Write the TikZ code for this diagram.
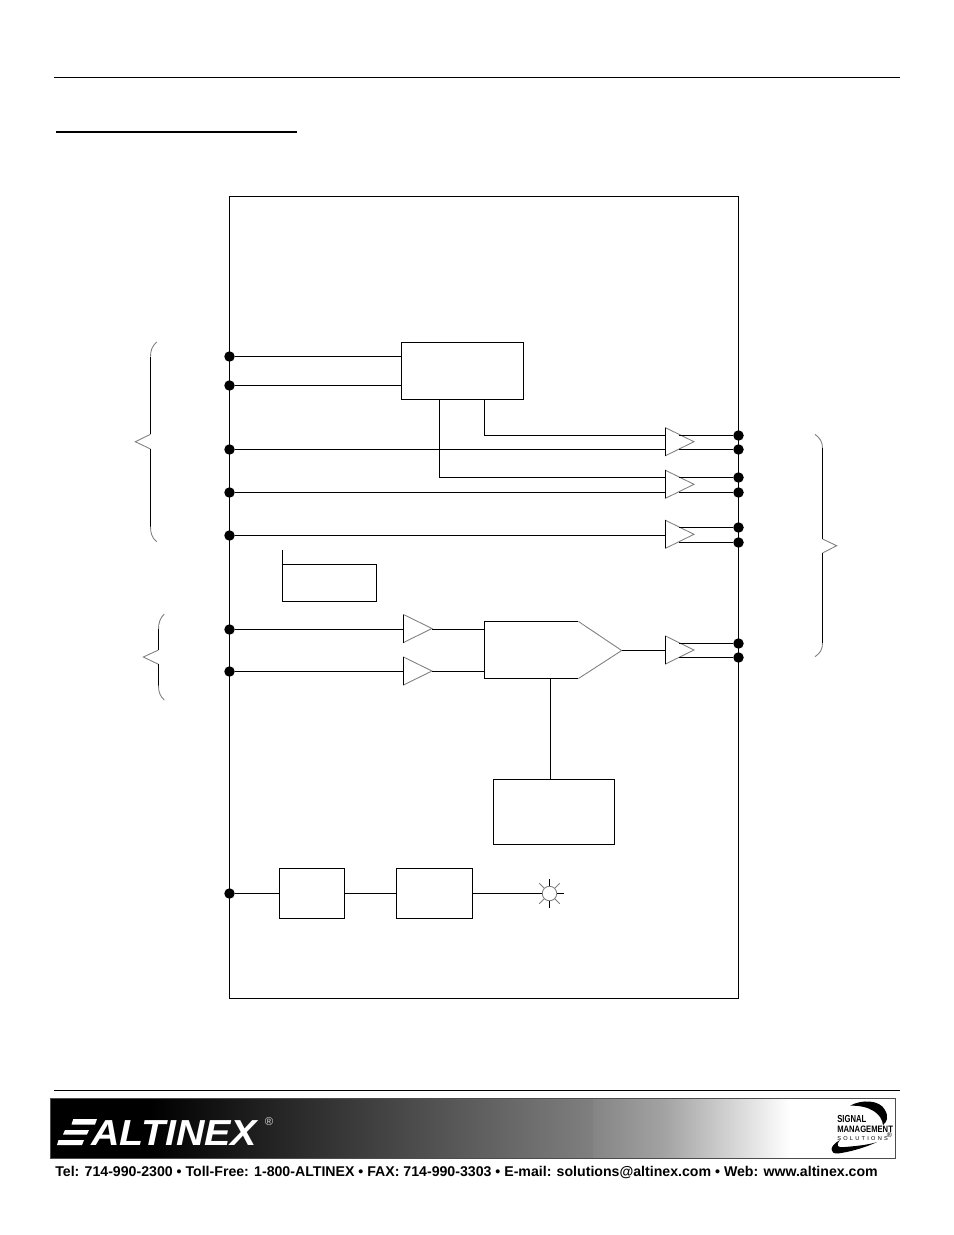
\documentclass[tikz,border=0pt]{standalone}
\usepackage{fontspec}
\setmainfont{Liberation Sans}
\usetikzlibrary{shapes.geometric}
\tikzset{
  wire/.style={line width=0.65pt},
  thin gray/.style={draw=black!50, line width=0.5pt},
  pin/.style={circle, fill=black, inner sep=0, minimum size=0.21cm},
  block/.style={rectangle, draw, wire, inner sep=0, outer sep=0},
  amp/.style={isosceles triangle, isosceles triangle stretches, thin gray, inner sep=0, outer sep=0,
    minimum width=0.56cm, minimum height=0.57cm, anchor=lower side},
}
\begin{document}
\begin{tikzpicture}[x=0.02cm, y=-0.02cm]
      \fill[white] (0,0) rectangle (954,1235);
      \useasboundingbox (0,0) rectangle (954,1235);

      \draw[wire] (54,77.5) -- (900,77.5);
      \draw[line width=1.3pt] (56,132) -- (297,132);
      \draw[wire] (54,1090.5) -- (900,1090.5);

      \draw[wire] (229.5,196.5) rectangle (738.5,998.5);

      \node[pin] (inA) at (229.5,356.5) {};
      \node[pin] (inB) at (229.5,385.5) {};
      \node[pin] (inC) at (229.5,449.5) {};
      \node[pin] (inD) at (229.5,492.5) {};
      \node[pin] (inE) at (229.5,535.5) {};
      \node[pin] (inF) at (229.5,629.5) {};
      \node[pin] (inG) at (229.5,671.5) {};
      \node[pin] (inH) at (229.5,893.5) {};

      \node[pin] (outA) at (738.5,435.5) {};
      \node[pin] (outB) at (738.5,449.5) {};
      \node[pin] (outC) at (738.5,477.5) {};
      \node[pin] (outD) at (738.5,492.5) {};
      \node[pin] (outE) at (738.5,527.5) {};
      \node[pin] (outF) at (738.5,542.5) {};
      \node[pin] (outG) at (738.5,643.5) {};
      \node[pin] (outH) at (738.5,657.5) {};

      \node[block, minimum width=2.44cm, minimum height=1.14cm] (upbox) at (462.5,371) {};
      \node[block, minimum width=1.88cm, minimum height=0.74cm] (memo) at (329.5,583) {};
      \node[block, minimum width=2.42cm, minimum height=1.30cm] (ctrl) at (554,812) {};
      \node[block, minimum width=1.30cm, minimum height=1.00cm] (boxL) at (312,893.5) {};
      \node[block, minimum width=1.52cm, minimum height=1.00cm] (boxR) at (434.5,893.5) {};
      \node[inner sep=0, outer sep=0, minimum width=1.88cm, minimum height=1.14cm] (mux) at (531.5,650) {};
      \node[coordinate] (muxtip) at (621.7,650.5) {};

      \node[amp] (ampA) at (665.5,441.7) {};
      \node[amp] (ampB) at (665.5,484.3) {};
      \node[amp] (ampC) at (665.5,534.3) {};
      \node[amp] (ampD) at (665.5,650) {};
      \node[amp] (ampE) at (403.5,628.5) {};
      \node[amp] (ampF) at (403.5,671) {};
      \foreach \n in {ampA,ampB,ampC,ampD,ampE,ampF}
        \draw[wire] (\n.left corner) -- (\n.right corner);

      \node[coordinate] (ampout) at (679,435) {};
      \node[coordinate] (tapA) at (484.5,399.5) {};
      \node[coordinate] (tapB) at (439.5,399.5) {};
      \node[coordinate] (ampAin) at (665.5,435.5) {};
      \node[coordinate] (ampBin) at (665.5,477.5) {};
      \node[coordinate] (ctrltap) at (550.5,678.5) {};
      \node[circle, thin gray, inner sep=0, minimum size=0.29cm] (led) at (549.5,893.5) {};

      \draw[wire] (mux.north east) -- (mux.north west) -- (mux.south west) -- (mux.south east);
      \draw[thin gray] (mux.north east) -- (muxtip) -- (mux.south east);
      \draw[wire] (memo.north west) -- ++(0,-14.5);

      \draw[wire] (inA) -- (inA -| upbox.west);
      \draw[wire] (inB) -- (inB -| upbox.west);
      \draw[wire] (tapA) |- (ampAin);
      \draw[wire] (tapB) |- (ampBin);
      \draw[wire] (inC) -- (inC -| ampA.lower side);
      \draw[wire] (inD) -- (inD -| ampB.lower side);
      \draw[wire] (inE) -- (inE -| ampC.lower side);
      \draw[wire] (inF) -- (inF -| ampE.lower side);
      \draw[wire] (inG) -- (inG -| ampF.lower side);
      \draw[wire] (inF -| ampE.apex) -- (inF -| mux.west);
      \draw[wire] (inG -| ampF.apex) -- (inG -| mux.west);
      \draw[wire] (muxtip) -- (muxtip -| ampD.lower side);
      \draw[wire] (ctrltap) -- (ctrltap |- ctrl.north);
      \draw[wire] (outA) -- (outA -| ampout);
      \draw[wire] (outB) -- (outB -| ampout);
      \draw[wire] (outC) -- (outC -| ampout);
      \draw[wire] (outD) -- (outD -| ampout);
      \draw[wire] (outE) -- (outE -| ampout);
      \draw[wire] (outF) -- (outF -| ampout);
      \draw[wire] (outG) -- (outG -| ampout);
      \draw[wire] (outH) -- (outH -| ampout);
      \draw[wire] (inH) -- (boxL);
      \draw[wire] (boxL) -- (boxR);
      \draw[wire] (boxR) -- (led);

      \foreach \a in {0,90,270}
        \draw[wire] (led) ++(\a:7.5) -- ++(\a:7);
      \foreach \a in {45,135,225,315}
        \draw[thin gray] (led) ++(\a:7.5) -- ++(\a:7);

      \draw[thin gray] (156.7,342) .. controls (152,346) and (150.5,351) .. (150.5,356.7);
      \draw[wire] (150.5,356.7) -- (150.5,434.3);
      \draw[thin gray] (150.5,434.3) -- (135.3,441.7) -- (150.5,449);
      \draw[wire] (150.5,449) -- (150.5,526.7);
      \draw[thin gray] (150.5,526.7) .. controls (150.5,533) and (152,538) .. (156.7,541.7);

      \draw[thin gray] (164.3,614) .. controls (160,618) and (158.5,623) .. (158.5,629.3);
      \draw[wire] (158.5,629.3) -- (158.5,650);
      \draw[thin gray] (158.5,650) -- (143.3,657) -- (158.5,664.3);
      \draw[wire] (158.5,664.3) -- (158.5,685.7);
      \draw[thin gray] (158.5,685.7) .. controls (158.5,692) and (160,696) .. (164.3,700);

      \draw[thin gray] (815,434.3) .. controls (820,438) and (822.5,442) .. (822.5,448);
      \draw[wire] (822.5,448) -- (822.5,539);
      \draw[thin gray] (822.5,539) -- (836.7,545.7) -- (822.5,553);
      \draw[wire] (822.5,553) -- (822.5,643);
      \draw[thin gray] (822.5,643) .. controls (822.5,650) and (820,653) .. (815,656.7);

      \fill[black] (50,1098.5) rectangle (150,1158.5);
      \shade[left color=black, right color=black!50] (150,1098.5) rectangle (593,1158.5);
      \shade[left color=black!48, right color=black!36] (593,1098.5) rectangle (665,1158.5);
      \shade[left color=black!36, right color=white] (665,1098.5) rectangle (790,1158.5);
      \draw[black!70, line width=0.5pt] (50,1098.5) rectangle (895.7,1158.5);

      \fill[white] (73.3,1119) -- (97,1119) -- (95,1124.5) -- (71.5,1124.5) -- cycle;
      \fill[white] (65,1130) -- (89,1130) -- (87,1134.5) -- (63,1134.5) -- cycle;
      \fill[white] (58.5,1140) -- (84,1140) -- (82,1145) -- (57,1145) -- cycle;
      \node[anchor=base west, inner sep=0, text=white] (logo) at (91,1145)
        {\scalebox{1.09}[1]{\fontsize{20.6}{22}\selectfont\bfseries\itshape ALTINEX}};
      \node[inner sep=0, text=black!15] (reg) at (269,1122) {\fontsize{6.5}{8}\selectfont\textregistered};

      \fill (850,1105.7) .. controls (862,1099) and (880,1100) .. (885,1110)
        .. controls (889,1117) and (887,1122) .. (883,1125)
        .. controls (882,1114) and (870,1105) .. (850,1105.7) -- cycle;
      \fill (877,1142) .. controls (862,1149) and (848,1152) .. (838,1153.5)
        .. controls (829,1154) and (829,1146) .. (840,1140)
        .. controls (835,1146) and (838,1148) .. (845,1147)
        .. controls (856,1146) and (868,1145) .. (877,1142) -- cycle;
      \node[anchor=base west, inner sep=0] (sigA) at (837,1122)
        {\scalebox{0.75}[1]{\fontsize{5.8}{7}\selectfont\bfseries SIGNAL}};
      \node[anchor=base west, inner sep=0] (sigB) at (837,1132.5)
        {\scalebox{0.82}[1]{\fontsize{5.3}{6}\selectfont\bfseries MANAGEMENT}};
      \node[anchor=base west, inner sep=0] (sigC) at (837,1140)
        {\fontsize{3.2}{4}\selectfont\addfontfeature{LetterSpace=40}SOLUTIONS};
      \node[inner sep=0] (sigreg) at (889.5,1135.5) {\fontsize{4}{5}\selectfont\textregistered};

      \node[anchor=base west, inner sep=0] (contact) at (55,1176)
        {\fontsize{8.05}{9}\selectfont\bfseries Tel: 714-990-2300 • Toll-Free: 1-800-ALTINEX • FAX: 714-990-3303 • E-mail: solutions@altinex.com • Web: www.altinex.com};
\end{tikzpicture}
\end{document}
